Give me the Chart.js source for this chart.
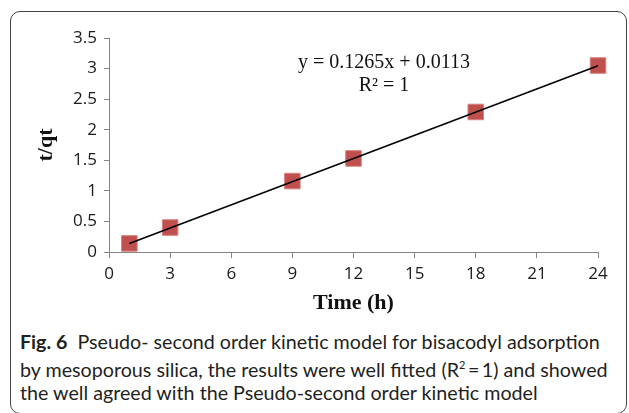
<!DOCTYPE html>
<html>
<head>
<meta charset="utf-8">
<script src="https://cdn.jsdelivr.net/npm/chart.js@4"></script>
<style>
  body { margin: 0; width: 629px; height: 413px; overflow: hidden; background: #fff; position: relative; }
  #box { position: absolute; left: 10px; top: 11px; width: 615px; height: 401px; border: 1px solid #444; border-radius: 10px; }
  #wrap { position: absolute; left: 0; top: 0; width: 629px; height: 320px; }
  #caption { position: absolute; left: 20px; top: 330px; font-family: Lato, "Open Sans", sans-serif; font-size: 19.7px; line-height: 23px; color: #231f20; white-space: nowrap; }
  #caption b { font-weight: bold; }
</style>
</head>
<body>
<div id="box"></div>
<div id="wrap"><canvas id="myChart" width="629" height="320"></canvas></div>
<div id="caption">
  <b>Fig. 6</b>&nbsp; Pseudo- second order kinetic model for bisacodyl adsorption<br>
  by mesoporous silica, the results were well fitted (R<sup style="font-size:11px">2</sup>&thinsp;=&thinsp;1) and showed<br>
  the well agreed with the Pseudo-second order kinetic model
</div>
<script>
// date
var timp = [1, 3, 9, 12, 18, 24];
var t_qt = [0.14, 0.40, 1.16, 1.53, 2.29, 3.05];
var xTickLabels = ['0', '3', '6', '9', '12', '15', '18', '21', '24'];
var yTickLabels = ['0', '0.5', '1', '1.5', '2', '2.5', '3', '3.5'];
var panta = 0.1265, intercept = 0.0113; // ecuatia din grafic
var ecuatie = ['y = 0.1265x + 0.0113', 'R\u00B2 = 1'];

var trend = [timp[0], timp[timp.length - 1]].map(x => ({x: x, y: panta * x + intercept}));

// text pentru ecuatie deasupra graficului
var ecuatiePlugin = {
    id: 'ecuatie',
    afterDatasetsDraw(chart) {
        var ctx = chart.ctx;
        ctx.save();
        ctx.font = '20px "Liberation Serif", "Times New Roman", serif';
        ctx.fillStyle = '#111';
        ctx.textAlign = 'center';
        ctx.textBaseline = 'alphabetic';
        ctx.fillText(ecuatie[0], 384, 68);
        ctx.fillText(ecuatie[1], 384, 91);
        ctx.restore();
    }
};

var ctx = document.getElementById('myChart').getContext('2d');
new Chart(ctx, {
    type: 'scatter',
    data: {
        datasets: [{
            type: 'line',
            data: trend,
            borderColor: '#000',
            borderWidth: 1.5,
            pointRadius: 0,
            fill: false,
            clip: false
        }, {
            data: timp.map((x, i) => ({x: x, y: t_qt[i]})),
            pointStyle: 'rect',
            pointRadius: 11,
            pointHoverRadius: 11,
            backgroundColor: 'rgb(192, 80, 77)',
            borderColor: 'rgba(215, 130, 128, 1)',
            borderWidth: 1,
            clip: false
        }]
    },
    options: {
        responsive: false,
        animation: false,
        layout: { padding: { top: 38, right: 31, left: 0, bottom: 0 } },
        plugins: { legend: { display: false }, tooltip: { enabled: false } },
        scales: {
            x: {
                type: 'linear',
                min: 0, max: 24,
                afterFit: s => { s.height = 68; },
                afterBuildTicks: s => { s.ticks = xTickLabels.map(v => ({value: +v})); },
                ticks: {
                    callback: (v, i) => xTickLabels[i],
                    font: { family: '"Open Sans", sans-serif', size: 17 },
                    color: '#1a1a1a',
                    padding: 6,
                    maxRotation: 0
                },
                grid: { drawOnChartArea: false, tickLength: 6, color: '#868686' },
                border: { color: '#868686', width: 1 },
                title: {
                    display: true,
                    text: 'Time (h)',
                    font: { family: '"Liberation Serif", "Times New Roman", serif', size: 22, weight: 'bold' },
                    color: '#111',
                    padding: { top: 0, bottom: 3 }
                }
            },
            y: {
                min: 0, max: 3.5,
                afterFit: s => { s.width = 109; },
                afterBuildTicks: s => { s.ticks = yTickLabels.map(v => ({value: +v})); },
                ticks: {
                    callback: (v, i) => yTickLabels[i],
                    font: { family: '"Open Sans", sans-serif', size: 17 },
                    color: '#1a1a1a',
                    padding: 7
                },
                grid: { drawOnChartArea: false, tickLength: 5, color: '#868686' },
                border: { color: '#868686', width: 1 },
                title: {
                    display: true,
                    text: 't/qt',
                    font: { family: '"Liberation Serif", "Times New Roman", serif', size: 22, weight: 'bold' },
                    color: '#111',
                    padding: { top: 33, bottom: 0 }
                }
            }
        }
    },
    plugins: [ecuatiePlugin]
});
</script>
</body>
</html>
